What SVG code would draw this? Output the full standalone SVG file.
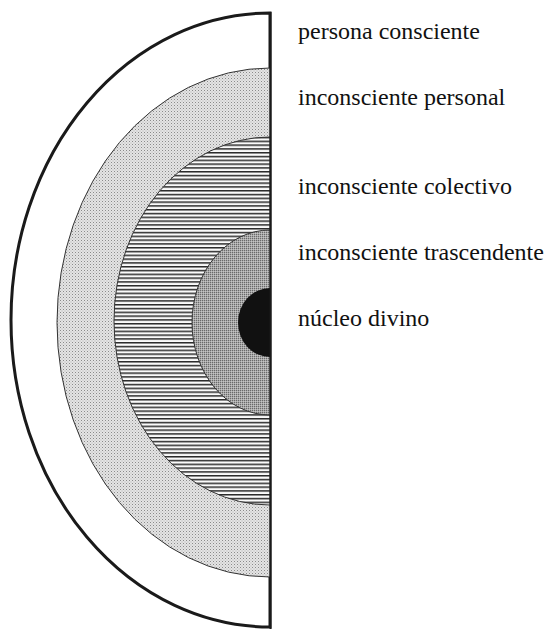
<svg xmlns="http://www.w3.org/2000/svg" width="548" height="631" viewBox="0 0 548 631">
<style>
.lbl{font-family:"Liberation Serif","Times New Roman",serif;font-size:24px;fill:#111}
.ring{stroke:#333;stroke-width:1}
</style>
<defs>
<pattern id="dots" width="3" height="3" patternUnits="userSpaceOnUse">
<rect width="3" height="3" fill="#e4e4e4"/>
<rect x="0" y="0" width="1" height="1" fill="#8a8a8a"/>
<rect x="1.5" y="1.5" width="1" height="1" fill="#b0b0b0"/>
</pattern>
<pattern id="hlines" width="4" height="3.8" patternUnits="userSpaceOnUse">
<rect width="4" height="3.8" fill="#fafafa"/>
<rect y="0" width="4" height="1.5" fill="#2a2a2a"/>
</pattern>
<pattern id="mesh" width="2" height="2" patternUnits="userSpaceOnUse">
<rect width="2" height="2" fill="#a8a8a8"/>
<rect width="1" height="1" fill="#6a6a6a"/>
<rect x="1" y="1" width="1" height="1" fill="#c4c4c4"/>
</pattern>
</defs>
<rect width="548" height="631" fill="#ffffff"/>
<g id="persona-consciente">
<path d="M270 13 A259 307 0 0 0 270 627 Z" fill="#ffffff" stroke="#1a1a1a" stroke-width="3"/>
</g>
<g id="inconsciente-personal">
<path class="ring" d="M270 68 A213 254.5 0 0 0 270 577 Z" fill="url(#dots)"/>
</g>
<g id="inconsciente-colectivo">
<path class="ring" d="M270 137 A156 184 0 0 0 270 505 Z" fill="url(#hlines)"/>
</g>
<g id="inconsciente-trascendente">
<path class="ring" d="M270 230 A78 92.5 0 0 0 270 415 Z" fill="url(#mesh)"/>
</g>
<g id="nucleo-divino">
<path d="M270 288 A32 34.5 0 0 0 270 357 Z" fill="#111111"/>
</g>
<g id="axis">
<line x1="270.5" y1="12" x2="270.5" y2="629" stroke="#1a1a1a" stroke-width="2"/>
</g>
<g id="labels">
<text class="lbl" x="298" y="39">persona consciente</text>
<text class="lbl" x="298" y="105">inconsciente personal</text>
<text class="lbl" x="298" y="194">inconsciente colectivo</text>
<text class="lbl" x="298" y="260">inconsciente trascendente</text>
<text class="lbl" x="298" y="326">núcleo divino</text>
</g>
</svg>
